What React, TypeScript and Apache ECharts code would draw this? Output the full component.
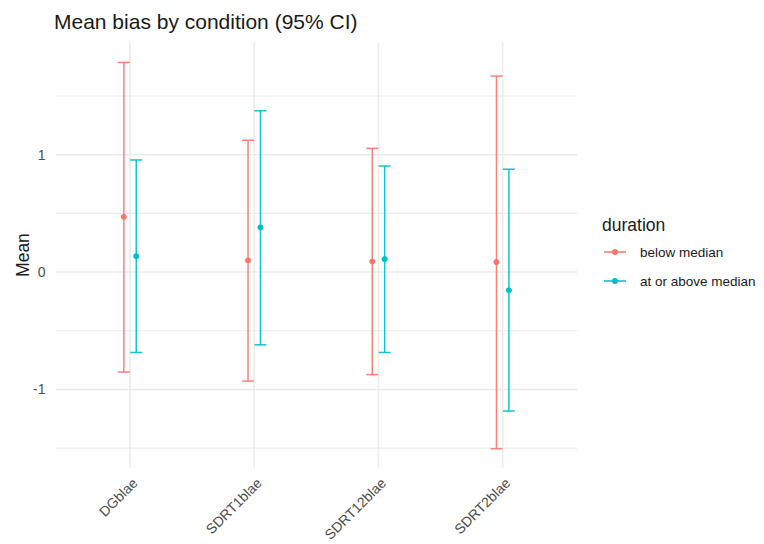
import React, { useEffect, useRef } from "react";
import * as echarts from "echarts";

const categories = ["DGblae", "SDRT1blae", "SDRT12blae", "SDRT2blae"];
const groups = ["below median", "at or above median"];
const belowMean = [0.47, 0.1, 0.09, 0.085];
const belowLower = [-0.852, -0.929, -0.874, -1.505];
const belowUpper = [1.786, 1.123, 1.054, 1.67];
const aboveMean = [0.135, 0.38, 0.11, -0.155];
const aboveLower = [-0.685, -0.62, -0.685, -1.184];
const aboveUpper = [0.955, 1.374, 0.904, 0.876];
const yTickLabels = [-1, 0, 1];
const yMinorGrid = [-1.5, -0.5, 0.5, 1.5];
const colors = ["#F8766D", "#00BFC4"];

const X_MIN = 0.4;
const X_MAX = 4.6;
const Y_MIN = -1.665;
const Y_MAX = 1.955;
const DODGE = 0.05;
const CAP = 0.048;
const FONT = "'Liberation Sans', Arial, sans-serif";
const GRID_COLOR = "#EBEBEB";

function makeErrorSeries(name: string, means: number[], lows: number[], highs: number[], color: string, dodge: number) {
  return {
    type: "custom",
    name,
    clip: false,
    z: 3,
    itemStyle: { color },
    data: categories.map((_, i) => [i + 1, means[i], lows[i], highs[i]]),
    renderItem: (params: any, api: any) => {
      const x = api.value(0) + dodge;
      const m = api.coord([x, api.value(1)]);
      const lo = api.coord([x, api.value(2)]);
      const hi = api.coord([x, api.value(3)]);
      const half = api.size([CAP, 0])[0];
      const ls = { stroke: color, lineWidth: 1.5, opacity: 0.92 };
      return {
        type: "group",
        children: [
          { type: "line", shape: { x1: lo[0], y1: lo[1], x2: hi[0], y2: hi[1] }, style: ls },
          { type: "line", shape: { x1: hi[0] - half, y1: hi[1], x2: hi[0] + half, y2: hi[1] }, style: ls },
          { type: "line", shape: { x1: lo[0] - half, y1: lo[1], x2: lo[0] + half, y2: lo[1] }, style: ls },
          { type: "circle", shape: { cx: m[0], cy: m[1], r: 3 }, style: { fill: color } },
        ],
      };
    },
  };
}

const gridSeries = {
  type: "custom",
  name: "grid",
  silent: true,
  clip: false,
  z: 1,
  data: [[1, 0]],
  renderItem: (params: any, api: any) => {
    const children: any[] = [];
    const hline = (v: number, w: number) => {
      const a = api.coord([X_MIN, v]);
      const b = api.coord([X_MAX, v]);
      children.push({ type: "line", shape: { x1: a[0], y1: a[1], x2: b[0], y2: b[1] }, style: { stroke: GRID_COLOR, lineWidth: w } });
    };
    yMinorGrid.forEach((v) => hline(v, 1.2));
    yTickLabels.forEach((v) => hline(v, 1.6));
    categories.forEach((_, i) => {
      const a = api.coord([i + 1, Y_MIN]);
      const b = api.coord([i + 1, Y_MAX]);
      children.push({ type: "line", shape: { x1: a[0], y1: a[1], x2: b[0], y2: b[1] }, style: { stroke: GRID_COLOR, lineWidth: 1.6 } });
    });
    return { type: "group", children };
  },
};

export default function App() {
  const ref = useRef<HTMLDivElement>(null);
  useEffect(() => {
    if (!ref.current) return;
    const chart = echarts.init(ref.current, undefined, { renderer: "svg" });
    chart.setOption({
      animation: false,
      backgroundColor: "#ffffff",
      textStyle: { fontFamily: FONT },
      title: [
        {
          text: "Mean bias by condition (95% CI)",
          left: 54,
          top: 11,
          padding: 0,
          textStyle: { fontSize: 21, fontWeight: "normal", color: "#1a1a1a", fontFamily: FONT },
        },
        {
          text: "duration",
          left: 602,
          top: 216,
          padding: 0,
          textStyle: { fontSize: 17.5, fontWeight: "normal", color: "#1a1a1a", fontFamily: FONT },
        },
      ],
      legend: {
        data: groups,
        orient: "vertical",
        left: 604,
        top: 245,
        padding: 0,
        itemWidth: 22,
        itemHeight: 7,
        itemGap: 15,
        icon: "path://M0,3.2 H22 V4.8 H0 Z M14,4 A3,3 0 1 1 8,4 A3,3 0 1 1 14,4 Z",
        textStyle: { fontSize: 13.5, color: "#1a1a1a", fontFamily: FONT, padding: [0, 0, 0, 9] },
      },
      grid: { left: 55.5, right: 186.8, top: 42.6, bottom: 544 - 467.8, containLabel: false },
      xAxis: {
        type: "value",
        min: X_MIN,
        max: X_MAX,
        axisLine: { show: false },
        axisTick: { show: false },
        splitLine: { show: false },
        axisLabel: {
          customValues: [1, 2, 3, 4],
          formatter: (v: number) => categories[Math.round(v) - 1] ?? "",
          rotate: 45,
          margin: 8,
          verticalAlign: "top",
          fontSize: 14,
          color: "#4D4D4D",
          fontFamily: FONT,
        },
      },
      yAxis: {
        type: "value",
        min: Y_MIN,
        max: Y_MAX,
        name: "Mean",
        nameLocation: "middle",
        nameRotate: 90,
        nameGap: 33,
        nameMoveOverlap: false,
        nameTextStyle: { fontSize: 17.5, color: "#1a1a1a", fontFamily: FONT, verticalAlign: "middle" },
        axisLine: { show: false },
        axisTick: { show: false },
        splitLine: { show: false },
        axisLabel: {
          customValues: yTickLabels,
          margin: 10,
          fontSize: 14,
          color: "#4D4D4D",
          fontFamily: FONT,
        },
      },
      series: [
        gridSeries,
        makeErrorSeries(groups[0], belowMean, belowLower, belowUpper, colors[0], -DODGE),
        makeErrorSeries(groups[1], aboveMean, aboveLower, aboveUpper, colors[1], DODGE),
      ],
    });
    return () => chart.dispose();
  }, []);
  return <div ref={ref} style={{ position: "fixed", left: 0, top: 0, width: 764, height: 544 }} />;
}
